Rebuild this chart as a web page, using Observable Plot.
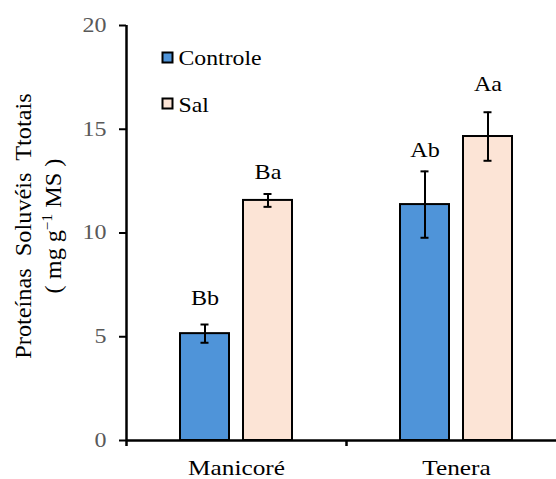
<!DOCTYPE html>
<html><head><meta charset="utf-8">
<script src="https://cdn.jsdelivr.net/npm/d3@7"></script>
<script src="https://cdn.jsdelivr.net/npm/@observablehq/plot@0.6"></script>
<style>
body{margin:0;background:#fff}
#chart svg, #chart svg text{font-family:"Liberation Serif","Times New Roman",serif !important}
</style>
</head><body><div id="chart"></div>
<script>
// ---- data ----
const cultivars = ["Manicoré", "Tenera"];
const treatments = ["Controle", "Sal"];
const controleMean = [5.15, 11.37];
const controleErr = [0.44, 1.6];
const salMean = [11.57, 14.65];
const salErr = [0.31, 1.17];
const controleLetters = ["Bb", "Ab"];
const salLetters = ["Ba", "Aa"];
const controleLetterY = [6.51, 13.64];
const salLetterY = [12.58, 16.82];
const yTicks = [0, 5, 10, 15, 20];
const yLabelLine1 = "Proteínas  Soluvéis  Ttotais";
const yLabelLine2 = ["( mg g", "−1", " MS )"];
const colors = ["#4F94D9", "#FCE4D6"];

const rows = (means, errs, letters, ly, treatment) =>
  cultivars.map((c, i) => ({cultivar: c, treatment, mean: means[i], err: errs[i], letter: letters[i], ly: ly[i]}));
const controle = rows(controleMean, controleErr, controleLetters, controleLetterY, "Controle");
const sal = rows(salMean, salErr, salLetters, salLetterY, "Sal");

function seriesMarks(data, side) {
  // side: -1 for left bar (Controle), +1 for right bar (Sal)
  const near = 54, far = 117;       // bar insets inside the 220px band
  const capNear = 74.5, capFar = 137.5;
  const dx = side * 31.5;
  return [
    Plot.barY(data, {x: "cultivar", y: "mean", fill: "treatment", stroke: "black", strokeWidth: 2,
      insetLeft: side < 0 ? near : far, insetRight: side < 0 ? far : near}),
    Plot.ruleX(data, {x: "cultivar", y1: d => d.mean - d.err, y2: d => d.mean + d.err, dx, stroke: "black", strokeWidth: 2}),
    Plot.tickY(data, {x: "cultivar", y: d => d.mean + d.err, stroke: "black", strokeWidth: 2,
      insetLeft: side < 0 ? capNear : capFar, insetRight: side < 0 ? capFar : capNear}),
    Plot.tickY(data, {x: "cultivar", y: d => d.mean - d.err, stroke: "black", strokeWidth: 2,
      insetLeft: side < 0 ? capNear : capFar, insetRight: side < 0 ? capFar : capNear}),
    Plot.text(data, {x: "cultivar", y: "ly", text: "letter", dx, lineAnchor: "bottom", fontSize: 21, fill: "black"})
  ];
}

const legendMarks = treatments.flatMap((t, i) => [
  Plot.dot([t], {fill: d => d, symbol: "square", r: 5.64, stroke: "black", strokeWidth: 2,
    frameAnchor: "top-left", dx: 41, dy: 32 + i * 46}),
  Plot.text([t], {text: d => d, frameAnchor: "top-left", dx: 52, dy: 32.5 + i * 47, textAnchor: "start",
    lineAnchor: "middle", fontSize: 22, fill: "black"})
]);

const chart = Plot.plot({
  width: 556, height: 479,
  marginLeft: 126, marginTop: 25, marginBottom: 39, marginRight: 0,
  x: {type: "band", domain: cultivars, range: [126, 566], padding: 0, round: false},
  y: {domain: [0, 20], range: [440, 25]},
  color: {domain: treatments, range: colors},
  style: {background: "white"},
  marks: [
    ...seriesMarks(controle, -1),
    ...seriesMarks(sal, 1),
    Plot.ruleY([0], {stroke: "black", strokeWidth: 2.5}),
    Plot.ruleX([cultivars[0]], {x: d => d, dx: -110, y1: 0, y2: 20, stroke: "black", strokeWidth: 2.5}),
    Plot.ruleX(cultivars, {x: d => d, dx: -110, y1: 0, y2: 0, insetBottom: -6, stroke: "black", strokeWidth: 2.5}),
    Plot.axisY({ticks: yTicks, tickSize: 7, tickPadding: 13, stroke: "black", strokeWidth: 2, fill: "#595959",
      fontSize: 20, label: null}),
    Plot.axisX({tickSize: 0, tickPadding: 19, fontSize: 22, fill: "black", label: null}),
    ...legendMarks
  ]
});
document.getElementById("chart").appendChild(chart);

// y-axis title (two lines, with superscript)
const ns = "http://www.w3.org/2000/svg";
const t1 = document.createElementNS(ns, "text");
t1.setAttribute("transform", "translate(31,226) rotate(-90)");
t1.setAttribute("text-anchor", "middle");
t1.setAttribute("font-size", "22.5");
t1.setAttribute("style", "white-space:pre");
t1.setAttribute("class", "ylab");
t1.textContent = yLabelLine1;
chart.appendChild(t1);
const t2 = document.createElementNS(ns, "text");
t2.setAttribute("transform", "translate(61,226) rotate(-90)");
t2.setAttribute("text-anchor", "middle");
t2.setAttribute("font-size", "22.5");
t2.setAttribute("style", "white-space:pre");
t2.setAttribute("class", "ylab");
const s1 = document.createElementNS(ns, "tspan"); s1.textContent = yLabelLine2[0];
const s2 = document.createElementNS(ns, "tspan"); s2.textContent = yLabelLine2[1];
s2.setAttribute("font-size", "14"); s2.setAttribute("dy", "-9");
const s3 = document.createElementNS(ns, "tspan"); s3.textContent = yLabelLine2[2]; s3.setAttribute("dy", "9");
t2.append(s1, s2, s3);
chart.appendChild(t2);

// widen glyphs along the baseline, as in the reference
function stretch(el, s) {
  const b = el.getBBox();
  const anchor = getComputedStyle(el).textAnchor;
  const ax = anchor === "middle" ? b.x + b.width / 2 : anchor === "end" ? b.x + b.width : b.x;
  const t = el.getAttribute("transform") || "";
  el.setAttribute("transform", `${t} translate(${ax},0) scale(${s},1) translate(${-ax},0)`);
}
const factor = new Map();
yTicks.forEach(v => factor.set(String(v), 1.2));
cultivars.forEach(v => factor.set(v, 1.15));
[...controleLetters, ...salLetters].forEach(v => factor.set(v, 1.15));
treatments.forEach(v => factor.set(v, 1.08));
chart.querySelectorAll("text").forEach(e => {
  if (e.classList.contains("ylab")) { stretch(e, 1.08); return; }
  const f = factor.get(e.textContent.trim());
  if (f) stretch(e, f);
});
</script>
</body></html>
